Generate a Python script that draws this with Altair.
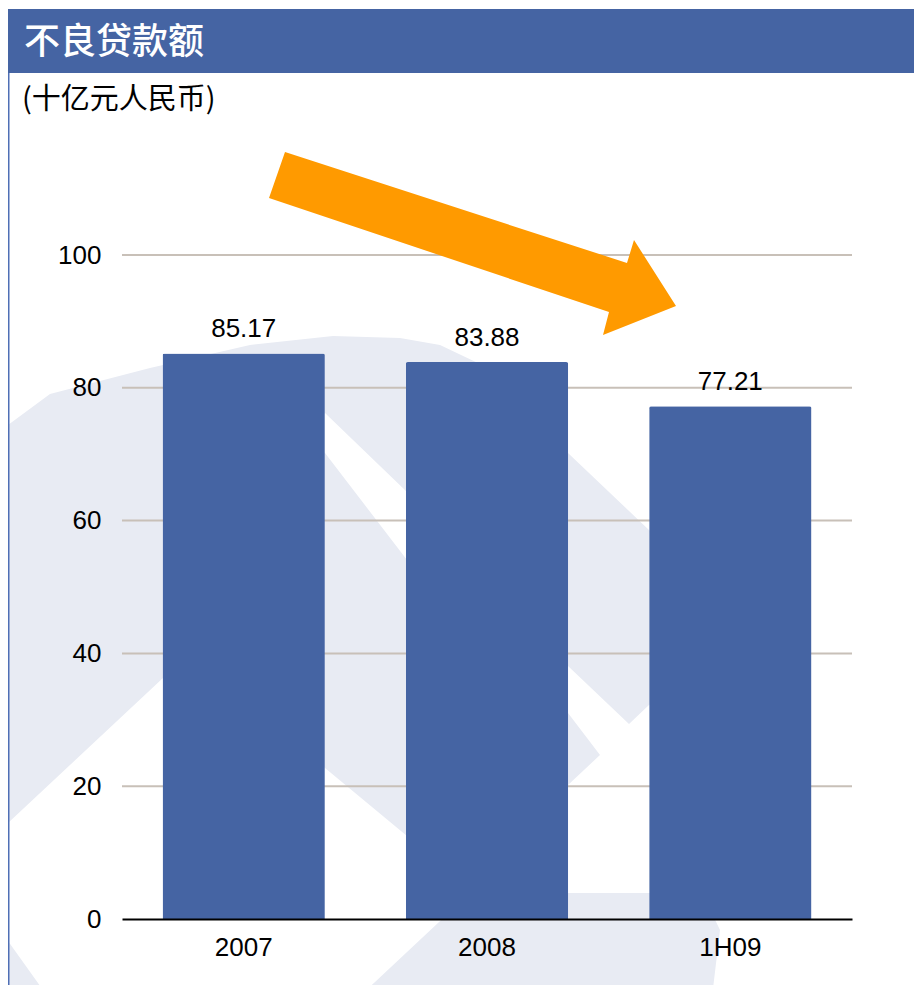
import altair as alt
import pandas as pd

# ---- data ----
categories = ["2007", "2008", "1H09"]
values = [85.17, 83.88, 77.21]
y_ticks = [0, 20, 40, 60, 80, 100]

title_text = "不良贷款额"
subtitle_text = "(十亿元人民币)"

# ---- layout constants (plot origin sits at page pixel 122,255) ----
OX, OY = 122, 255
W, H = 730, 664
TOTAL_W, TOTAL_H = 906, 977

BAR_COLOR = "#4564A3"
HEAD_COLOR = "#4564A3"
WM_COLOR = "#E8EBF3"
GRID_COLOR = "#C8C0B8"
ARROW_COLOR = "#FF9A00"

# decorative shapes (page pixel coordinates)
watermark_polys = [
    [(8, 425), (50, 394), (150, 368), (250, 345), (333, 336), (400, 338), (440, 345),
     (480, 364), (520, 420), (470, 552), (407, 492), (325, 413), (260, 480), (163, 678), (8, 823)],
    [(250, 385), (325, 453), (407, 560), (480, 650), (480, 900), (407, 836), (325, 768), (250, 700)],
    [(470, 372), (568, 453), (649, 530), (690, 570), (690, 680), (649, 705), (629, 724),
     (568, 666), (470, 560)],
    [(500, 625), (568, 713), (600, 755), (568, 785), (500, 840)],
    [(470, 893), (680, 893), (708, 905), (720, 930), (712, 997), (359, 997)],
    [(8, 941), (48, 997), (8, 997)],
]
arrow_poly = [(285, 152), (627, 263), (634, 240), (676, 306), (603, 335), (609, 312), (269, 198)]


def to_path(polys):
    parts = []
    for poly in polys:
        pts = [f"{x - OX:.1f},{y - OY:.1f}" for x, y in poly]
        parts.append("M" + " L".join(pts) + " Z")
    return " ".join(parts)


df = pd.DataFrame({"period": categories, "value": values})
grid_df = pd.DataFrame({"value": [t for t in y_ticks if t > 0]})
one = pd.DataFrame({"a": [0]})

y_scale = alt.Scale(domain=[0, 100], nice=False)
y_axis = alt.Axis(
    title=None, values=y_ticks, labelFont="Liberation Sans", labelFontSize=26,
    labelColor="black", labelPadding=21, ticks=False, domain=False, grid=False,
    zindex=1,
)
x_axis = alt.Axis(
    title=None, labelAngle=0, labelFont="Liberation Sans", labelFontSize=26,
    labelColor="black", domainColor="black", domainWidth=2, ticks=False,
    labelPadding=15, grid=False, zindex=1,
)
x_scale = alt.Scale(paddingInner=0.333, paddingOuter=0.1667)

x_enc = alt.X("period:N", sort=categories, scale=x_scale, axis=x_axis)
y_enc = alt.Y("value:Q", scale=y_scale, axis=y_axis)

watermark = alt.Chart(one).mark_point(
    shape=to_path(watermark_polys), size=4, filled=True, fill=WM_COLOR,
    strokeWidth=0, opacity=1,
).encode(x=alt.value(0), y=alt.value(0))

header = alt.Chart(one).mark_rect(color=HEAD_COLOR).encode(
    x=alt.value(8 - OX), x2=alt.value(930 - OX),
    y=alt.value(9 - OY), y2=alt.value(73 - OY),
)

border = alt.Chart(one).mark_rule(color="#4F6FB5", strokeWidth=1.5).encode(
    x=alt.value(8.75 - OX), y=alt.value(73 - OY), y2=alt.value(1000 - OY),
)

title = alt.Chart(one).mark_text(
    text=title_text, font="Noto Sans CJK SC", fontSize=36, color="white",
    align="left", baseline="middle", fontWeight=500,
).encode(x=alt.value(24 - OX), y=alt.value(43 - OY))

subtitle = alt.Chart(one).mark_text(
    text=subtitle_text, font="Noto Sans CJK SC", fontSize=29, color="black",
    align="left", baseline="middle",
).encode(x=alt.value(22 - OX), y=alt.value(100 - OY))

grid = alt.Chart(grid_df).mark_rule(color=GRID_COLOR, strokeWidth=2).encode(
    y=alt.Y("value:Q", scale=y_scale, axis=y_axis),
    x=alt.value(0), x2=alt.value(W),
)

bars = alt.Chart(df).mark_bar(
    color=BAR_COLOR, cornerRadiusTopLeft=2, cornerRadiusTopRight=2
).encode(x=x_enc, y=y_enc)

labels = alt.Chart(df).mark_text(
    dy=-16, font="Liberation Sans", fontSize=26, color="black", baseline="alphabetic"
).encode(x=x_enc, y=y_enc, text=alt.Text("value:Q", format=".2f"))

arrow = alt.Chart(one).mark_point(
    shape=to_path([arrow_poly]), size=4, filled=True, fill=ARROW_COLOR,
    strokeWidth=0, opacity=1,
).encode(x=alt.value(0), y=alt.value(0))

chart = alt.layer(
    watermark, header, border, title, subtitle, grid, bars, labels, arrow
).properties(
    width=W, height=H,
    background="white",
    autosize=alt.AutoSizeParams(type="none"),
    padding={"left": OX - 8, "top": OY - 8, "right": TOTAL_W - (OX - 8) - W,
             "bottom": TOTAL_H - (OY - 8) - H},
).configure_view(strokeWidth=0, stroke="transparent")

chart.save("out.html", embed_options={"renderer": "svg", "actions": False})
